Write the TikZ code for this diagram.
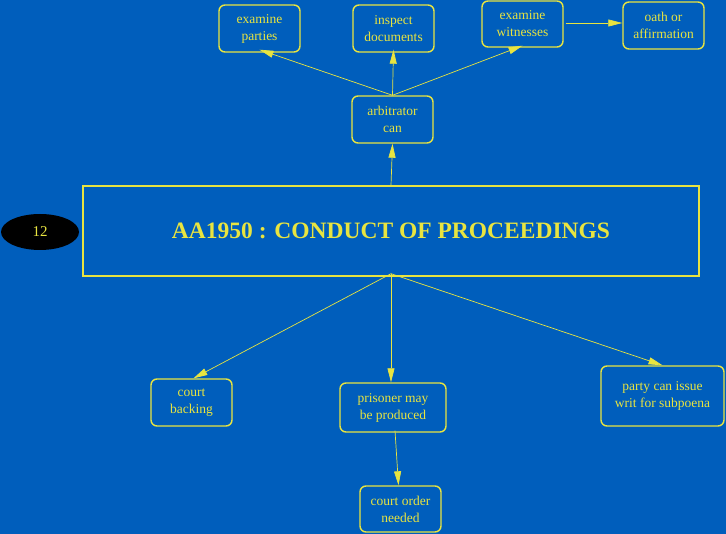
\documentclass[tikz,border=0pt]{standalone}
\usepackage{fontspec}
\setmainfont{Liberation Serif}
\usetikzlibrary{arrows.meta,shapes.geometric}
\definecolor{bg}{RGB}{0,94,188}
\definecolor{yel}{RGB}{232,228,64}
\begin{document}
\begin{tikzpicture}[x=1pt,y=-1pt,
  box/.style={draw=yel,line width=1.4pt,rounded corners=6pt,text=yel,align=center,
    font=\fontsize{13.5}{17}\selectfont,inner sep=0pt},
  conn/.style={draw=yel,line width=0.7pt,-{Triangle[length=14pt,width=7pt]}}]
\fill[bg] (0,0) rectangle (726,534);
\useasboundingbox (0,0) rectangle (726,534);
\node[ellipse,fill=black,minimum width=78pt,minimum height=36pt,inner sep=0pt,text=yel,
  font=\fontsize{15}{17}\selectfont] (num) at (40,232) {12};
\node[draw=yel,line width=1.4pt,minimum width=616pt,minimum height=90pt,inner sep=0pt,
  text=yel,font=\bfseries\fontsize{23.5}{28}\selectfont] (main) at (391,231) {AA1950 : CONDUCT OF PROCEEDINGS};
\node[box,minimum width=81pt,minimum height=47pt] (arb) at (392.5,119.5) {arbitrator\\can};
\node[box,minimum width=81pt,minimum height=47pt] (ep) at (259.5,28.5) {examine\\parties};
\node[box,minimum width=81pt,minimum height=47pt] (id) at (393.5,28.5) {inspect\\documents};
\node[box,minimum width=81pt,minimum height=46pt] (ew) at (522.5,24) {examine\\witnesses};
\node[box,minimum width=81pt,minimum height=47pt] (oa) at (663.5,25.5) {oath or\\affirmation};
\node[box,minimum width=81pt,minimum height=47pt] (cb) at (191.5,402.5) {court\\backing};
\node[box,minimum width=106pt,minimum height=49pt] (pr) at (393,407.5) {prisoner may\\be produced};
\node[box,minimum width=81pt,minimum height=46pt] (co) at (400.5,509) {court order\\needed};
\node[box,minimum width=123pt,minimum height=60pt] (pa) at (662.5,396) {party can issue\\writ for subpoena};
\draw[conn] (main.north) -- (arb.south);
\draw[conn] (arb.north) -- ([yshift=3pt]ep.south);
\draw[conn] (arb.north) -- ([yshift=3pt]id.south);
\draw[conn] (arb.north) -- ([yshift=2pt]ew.south);
\draw[conn] ([xshift=2pt,yshift=1pt]ew.east) -- ([yshift=1pt]ew.east -| oa.west);
\draw[conn] ([yshift=3pt]main.south) -- ([xshift=2pt]cb.north);
\draw[conn] ([yshift=3pt]main.south) -- ([xshift=-2pt]pr.north);
\draw[conn] ([yshift=3pt]main.south) -- (pa.north);
\draw[conn] ([xshift=2pt,yshift=2pt]pr.south) -- ([xshift=-2pt]co.north);
\end{tikzpicture}
\end{document}
